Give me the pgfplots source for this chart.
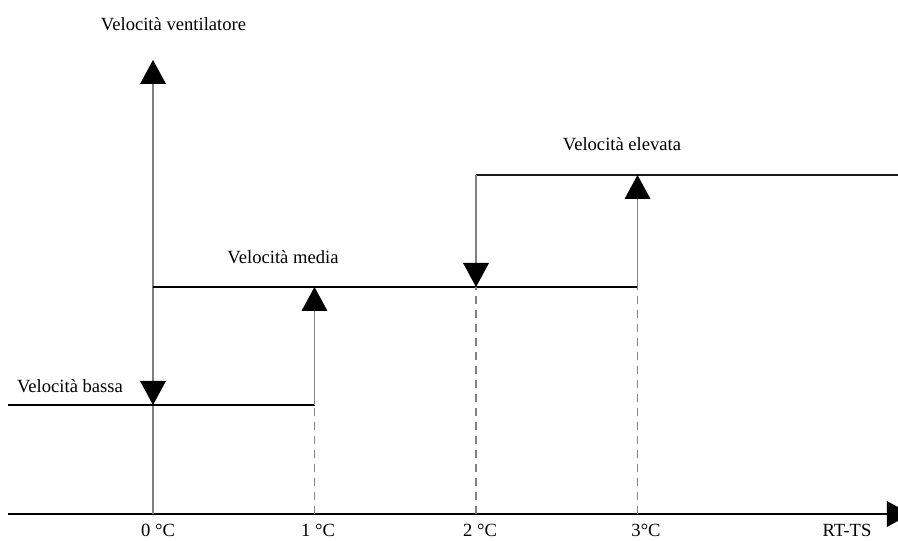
\documentclass[border=0pt]{standalone}
\usepackage{pgfplots}
\pgfplotsset{compat=1.18}
\usepackage{fontspec}
\setmainfont{Liberation Serif}
\definecolor{lgray}{RGB}{128,128,128}
\newcommand\lbl{\fontsize{18.6}{22}\selectfont}
\pgfdeclareplotmark{tup}{\pgfpathmoveto{\pgfpoint{0pt}{0pt}}\pgfpathlineto{\pgfpoint{-13pt}{-24pt}}\pgfpathlineto{\pgfpoint{13pt}{-24pt}}\pgfpathclose\pgfusepathqfill}
\pgfdeclareplotmark{tdown}{\pgfpathmoveto{\pgfpoint{0pt}{0pt}}\pgfpathlineto{\pgfpoint{-13pt}{24pt}}\pgfpathlineto{\pgfpoint{13pt}{24pt}}\pgfpathclose\pgfusepathqfill}
\pgfdeclareplotmark{trightcut}{\pgfpathmoveto{\pgfpoint{0pt}{7pt}}\pgfpathlineto{\pgfpoint{-11pt}{13pt}}\pgfpathlineto{\pgfpoint{-11pt}{-13pt}}\pgfpathlineto{\pgfpoint{0pt}{-7pt}}\pgfpathclose\pgfusepathqfill}
\begin{document}
\begin{tikzpicture}
\begin{axis}[
  scale only axis, width=898pt, height=540pt,
  xmin=-0.9474, xmax=4.6130, ymin=-0.2301, ymax=4.5487,
  axis line style={draw=none}, xtick=\empty, ytick=\empty, clip=true,
]
% axes
\addplot[black, line width=1.5pt] coordinates {(-0.90,0) (4.56,0)};
\addplot[only marks, mark=trightcut, mark options={black}] coordinates {(4.612,0)};
\addplot[lgray, line width=1.5pt] coordinates {(0,0) (0,3.82)};
\addplot[only marks, mark=tup, mark options={black}] coordinates {(0,4.018)};
% speed levels (black)
\addplot[black, line width=1.5pt] coordinates {(-0.90,0.965) (1,0.965)};
\addplot[black, line width=1.5pt] coordinates {(0,2.009) (3,2.009)};
\addplot[black!80!lgray, line width=1.5pt] coordinates {(2,3.0) (4.613,3.0)};
% transitions (gray)
\addplot[lgray, line width=1.5pt] coordinates {(1,0.965) (1,1.8)};
\addplot[lgray, line width=1.5pt] coordinates {(2,3.0) (2,2.2)};
\addplot[lgray, line width=1.5pt] coordinates {(3,2.009) (3,2.8)};
% dashed drop lines
\addplot[lgray, line width=1.5pt, dash pattern=on 8pt off 6pt] coordinates {(1,0) (1,0.965)};
\addplot[lgray, line width=1.5pt, dash pattern=on 8pt off 6pt] coordinates {(2,0) (2,2.009)};
\addplot[lgray, line width=1.5pt, dash pattern=on 8pt off 6pt] coordinates {(3,0) (3,2.009)};
% arrow heads
\addplot[only marks, mark=tdown, mark options={black}] coordinates {(0,0.965) (2,2.009)};
\addplot[only marks, mark=tup, mark options={black}] coordinates {(1,2.009) (3,3.0)};
% labels
\node[inner sep=0pt, anchor=base] at (axis cs:0.127,4.283) {\lbl Velocità ventilatore};
\node[inner sep=0pt, anchor=base] at (axis cs:0.805,2.221) {\lbl Velocità media};
\node[inner sep=0pt, anchor=base] at (axis cs:2.904,3.215) {\lbl Velocità elevata};
\node[inner sep=0pt, anchor=base] at (axis cs:-0.514,1.071) {\lbl Velocità bassa};
\node[inner sep=0pt, anchor=base] at (axis cs:0.031,-0.196) {\lbl 0 °C};
\node[inner sep=0pt, anchor=base] at (axis cs:1.022,-0.196) {\lbl 1 °C};
\node[inner sep=0pt, anchor=base] at (axis cs:2.025,-0.196) {\lbl 2 °C};
\node[inner sep=0pt, anchor=base] at (axis cs:3.053,-0.196) {\lbl 3°C};
\node[inner sep=0pt, anchor=base] at (axis cs:4.297,-0.196) {\lbl RT-TS};
\end{axis}
\end{tikzpicture}
\end{document}
